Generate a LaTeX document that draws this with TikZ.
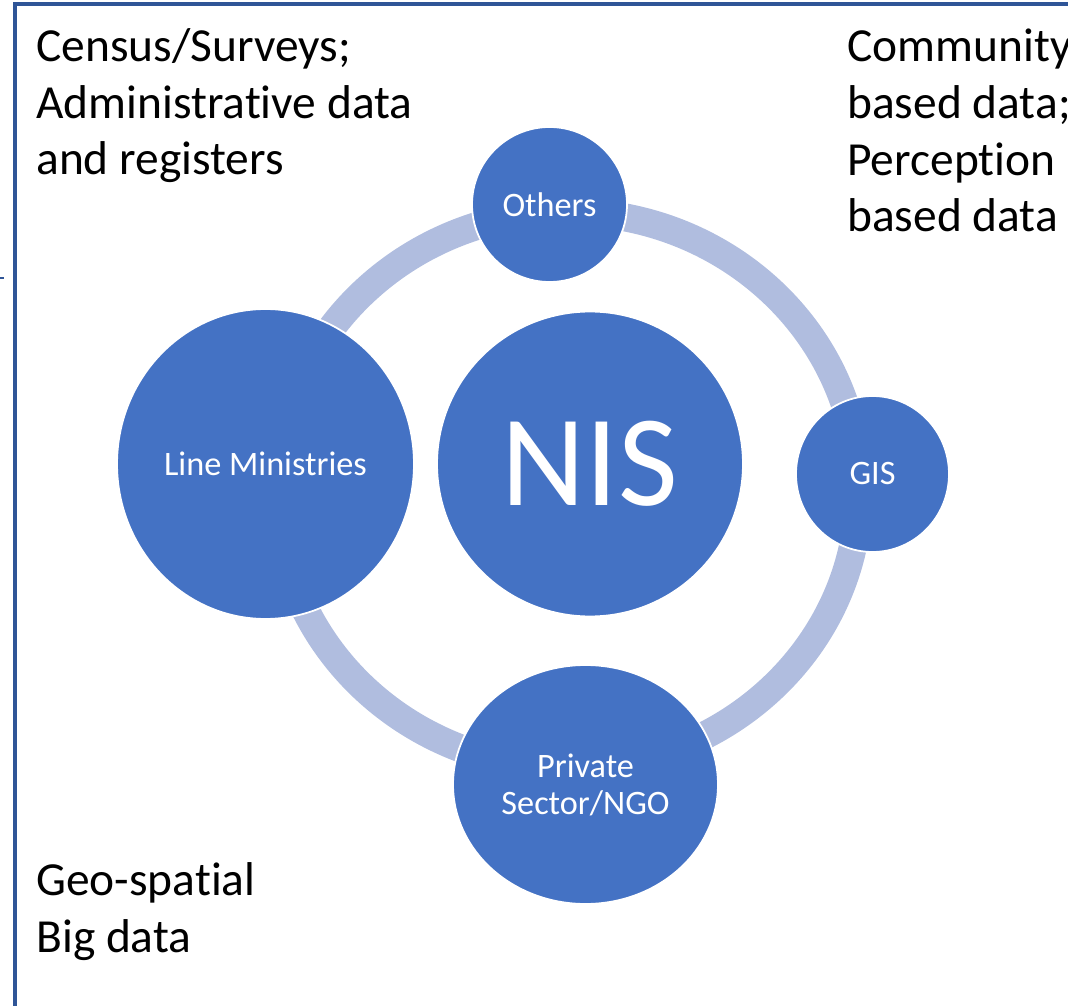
\documentclass[tikz,border=0pt]{standalone}
\usepackage{fontspec}
\setmainfont{Carlito}[Ligatures=NoCommon]
\usetikzlibrary{shapes.geometric}
\definecolor{nisblue}{RGB}{68,114,196}
\definecolor{ringblue}{RGB}{176,189,223}
\definecolor{frameblue}{RGB}{47,85,151}

\begin{document}
\begin{tikzpicture}[x=0.02cm, y=-0.02cm,
    hub/.style={ellipse, fill=nisblue, draw=white, line width=1pt, text=white,
      inner sep=0pt, align=center, font=\fontsize{19.5}{21}\selectfont},
    source/.style={anchor=base west, align=left, inner sep=0pt,
      font=\fontsize{27}{32.3}\selectfont}]
  \useasboundingbox (0,0) rectangle (1068,1006);
  \clip (0,0) rectangle (1068,1006);
  % frame
  \draw[frameblue, line width=1.8pt] (15,1030) -- (15,4) -- (1090,4);
  \draw[frameblue, line width=1.2pt] (0,278) -- (4,278);
  % ring
  \draw[ringblue, line width=0.56cm] (568,490) ellipse [x radius=5.82cm, y radius=5.56cm];
  % circles
  \node[hub, minimum width=6.12cm, minimum height=6.1cm,
    font=\fontsize{74}{80}\selectfont] (nis) at (590,464) {NIS};
  \node[hub, minimum width=5.94cm, minimum height=6.2cm] (line) at (265.5,464) {Line Ministries};
  \node[hub, minimum width=3.1cm, minimum height=3.1cm] (others) at (549.5,204.5) {Others};
  \node[hub, minimum width=3.06cm, minimum height=3.12cm] (gis) at (872.5,474) {GIS};
  \node[hub, minimum width=5.3cm, minimum height=4.78cm] (private) at (585.5,784.5) {Private\\Sector/NGO};
  % data sources (placed by the baseline of their last line)
  \node[source] (census) at (36,175) {Census/Surveys;\\Administrative data\\and registers};
  \node[source] (community) at (847,232) {Community\\based data;\\Perception\\based data};
  \node[source] (geo) at (36,952) {Geo-spatial\\Big data};
\end{tikzpicture}
\end{document}
